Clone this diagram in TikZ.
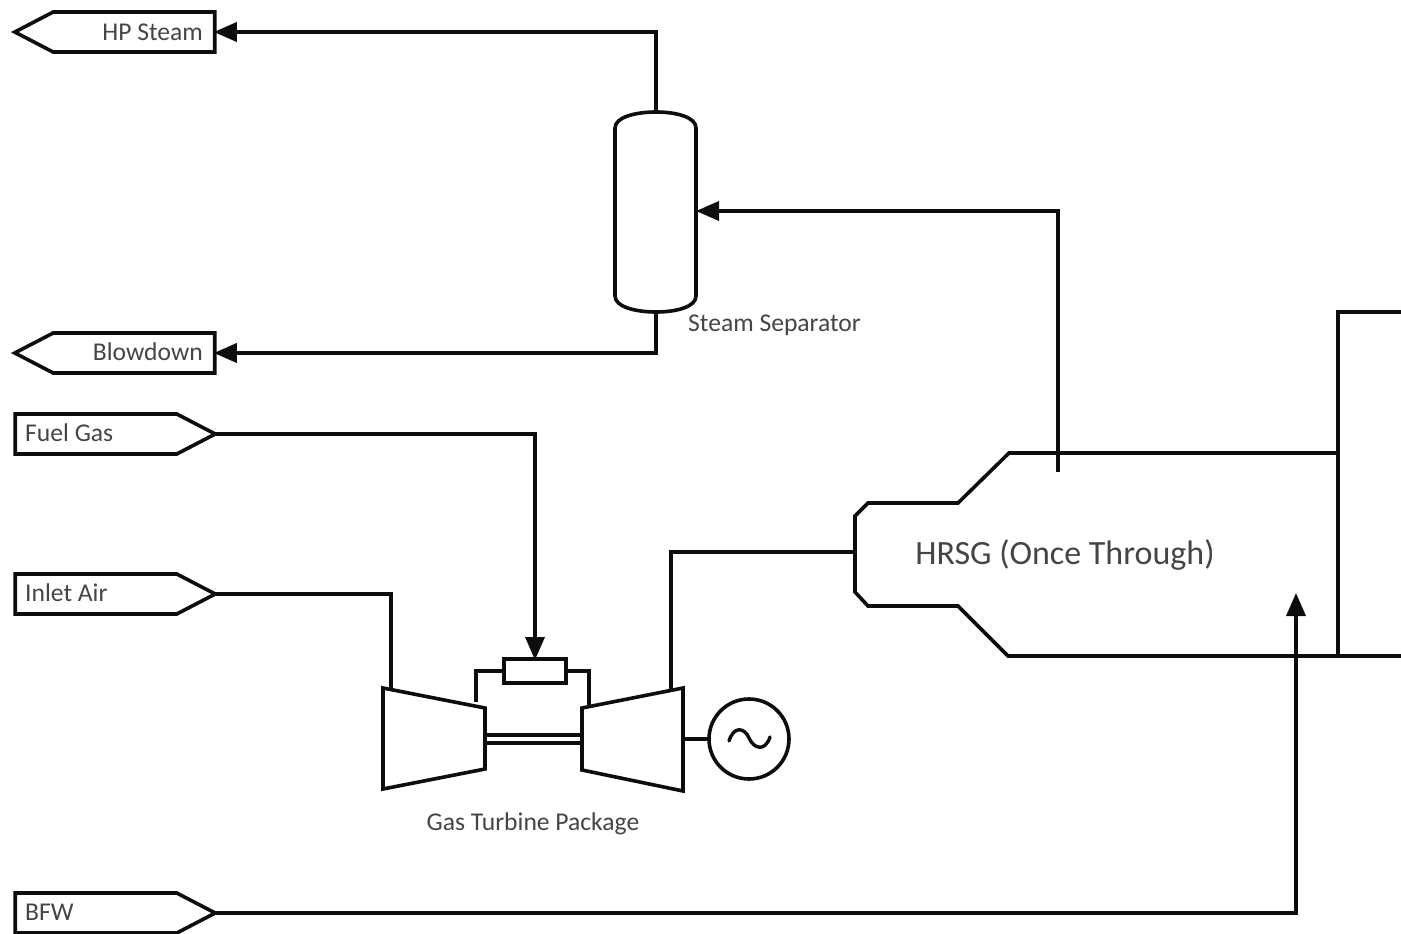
\documentclass[tikz,border=0pt]{standalone}
\usepackage{fontspec}
\setmainfont{Carlito}
\usetikzlibrary{arrows.meta,shapes.symbols}
\definecolor{lbl}{gray}{0.27}
\definecolor{ink}{gray}{0.05}
\tikzset{
  pipe/.style={draw=ink,line width=3.6pt,line join=miter},
  flow/.style={pipe,-{Triangle[length=23pt,width=19pt]},shorten >=-1pt},
  tagbox/.style={draw=ink,line width=3.6pt,shape=signal,signal pointer angle=55,minimum width=200pt,minimum height=40pt,inner sep=0pt,outer sep=0pt},
  tagout/.style={tagbox,signal to=west},
  tagin/.style={tagbox,signal to=east},
  small/.style={text=lbl,font=\fontsize{25.6}{27}\selectfont,inner sep=0pt},
  large/.style={text=lbl,font=\fontsize{34}{36}\selectfont,inner sep=0pt}
}
\begin{document}
\begin{tikzpicture}[x=1pt,y=-1pt]
\useasboundingbox (0,0) rectangle (1401,934);
\clip (0,0) rectangle (1401,934);
% stream tags
\node[tagout] (hp) at (134,32) {};
\node[tagout] (bd) at (134,353) {};
\node[tagin] (fuel) at (96,434) {};
\node[tagin] (air) at (96,594) {};
\node[tagin] (bfw) at (96,913) {};
\node[small,anchor=east] (hpt) at (203,32) {HP Steam};
\node[small,anchor=east] (bdt) at (203,352) {Blowdown};
\node[small,anchor=west] (fuelt) at (25,433) {Fuel Gas};
\node[small,anchor=west] (airt) at (25,593) {Inlet Air};
\node[small,anchor=west] (bfwt) at (25,912) {BFW};
% separator
\draw[pipe] (615,128) .. controls (615,117) and (636,112) .. (656,112) .. controls (676,112) and (696,117) .. (696,128)
  -- (696,296) .. controls (696,307) and (676,312) .. (656,312) .. controls (636,312) and (615,307) .. (615,296) -- cycle;
\coordinate (vtop) at (656,112);
\coordinate (vbot) at (656,312);
\coordinate (vfeed) at (697,211);
\coordinate (vtr) at (656,32);
\coordinate (vbr) at (656,353);
\node[small,anchor=west] (sep) at (688,325) {Steam Separator};
% turbine package
\draw[pipe,line join=miter] (383,688) -- (485,708) -- (485,769) -- (383,789) -- cycle;
\draw[pipe,line join=miter] (582,708) -- (683,688) -- (683,791) -- (582,770) -- cycle;
\node[draw=ink,line width=3.6pt,minimum width=62pt,minimum height=24pt,inner sep=0pt,outer sep=0pt] (comb) at (535,671) {};
\node[draw=ink,line width=3.6pt,circle,minimum size=80pt,inner sep=0pt,outer sep=0pt] (gen) at (749,739) {};
\draw[draw=ink,line width=3.4pt,line cap=round] (729,741) .. controls (734,725) and (745,728) .. (749,738) .. controls (754,749) and (765,752) .. (770,737);
\coordinate (cl) at (476,702);
\coordinate (cr) at (589,706);
\draw[pipe] (comb.west) -- (476,671) -- (cl);
\draw[pipe] (comb.east) -- (589,671) -- (cr);
\coordinate (sl1) at (485,735); \coordinate (sr1) at (582,735);
\coordinate (sl2) at (485,743); \coordinate (sr2) at (582,743);
\draw[draw=ink,line width=3.2pt] (sl1) -- (sr1);
\draw[draw=ink,line width=3.2pt] (sl2) -- (sr2);
\coordinate (tout) at (683,739);
\draw[pipe] (tout) -- (gen.west);
\node[small,anchor=center] (gtp) at (533,824) {Gas Turbine Package};
% HRSG
\draw[pipe] (1338,453) -- (1009,453) -- (958,503) -- (868,503) -- (855,516) -- (855,592) -- (868,606) -- (958,606) -- (1008,656) -- (1401,656);
\draw[pipe] (1401,312) -- (1338,312) -- (1338,656);
\node[large,anchor=center] (hrsg) at (1065,555) {HRSG (Once Through)};
\coordinate (hin) at (855,552);
\coordinate (hout) at (1058,472);
\coordinate (hbfw) at (1296,594);
% connectors
\draw[flow] (vtop) -- (vtr) -- (hp.east);
\draw[flow] (vbot) -- (vbr) -- (bd.east);
\draw[flow] (hout) |- (vfeed);
\draw[flow] (fuel.east) -| (comb.north);
\coordinate (ain) at (391,690);
\draw[pipe] (air.east) -| (ain);
\coordinate (tex) at (671,690);
\draw[pipe] (tex) |- (hin);
\draw[flow] (bfw.east) -| (hbfw);
\end{tikzpicture}
\end{document}
